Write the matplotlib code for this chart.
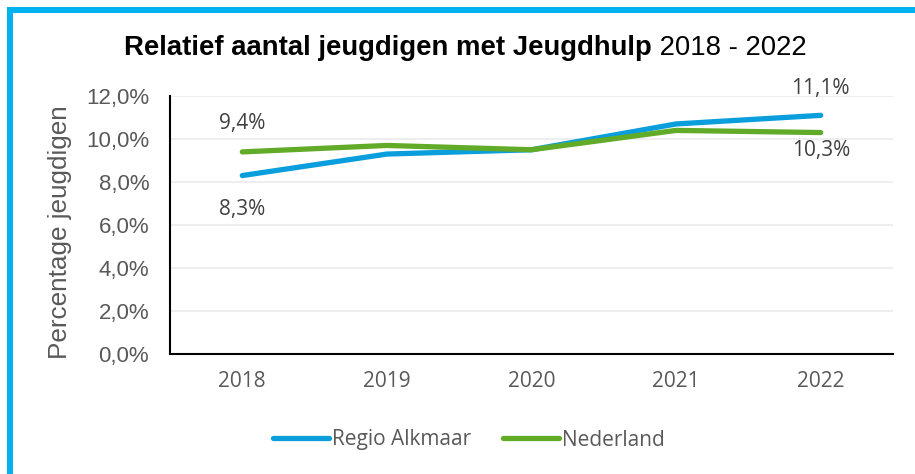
import matplotlib
matplotlib.use("Agg")
import matplotlib.pyplot as plt
from matplotlib.lines import Line2D
from matplotlib.patches import Rectangle

years = ["2018", "2019", "2020", "2021", "2022"]
regio_alkmaar = [8.3, 9.3, 9.5, 10.7, 11.1]
nederland = [9.4, 9.7, 9.5, 10.4, 10.3]
yticks = [0, 2, 4, 6, 8, 10, 12]

BLUE = "#0A9EDC"
GREEN = "#62AB28"
GRAY = "#595959"
DARK = "#404040"

W, H = 915, 474
fig = plt.figure(figsize=(W / 100, H / 100), dpi=100)
fig.patch.set_facecolor("white")

# frame (top and left blue bars)
fig.add_artist(Rectangle((7 / W, 0), 6 / W, 1 - 7 / H, transform=fig.transFigure,
                         color="#00B2F0", lw=0, zorder=0))
fig.add_artist(Rectangle((7 / W, 1 - 13 / H), 1 - 7 / W, 6 / H, transform=fig.transFigure,
                         color="#00B2F0", lw=0, zorder=0))

ax = fig.add_axes([170 / W, 1 - 354 / H, (893 - 170) / W, (354 - 96) / H])
x = list(range(len(years)))
ax.plot(x, regio_alkmaar, color=BLUE, lw=3.8, solid_capstyle="round", zorder=3)
ax.plot(x, nederland, color=GREEN, lw=3.8, solid_capstyle="round", zorder=3)

ax.set_xlim(-0.5, len(years) - 0.5)
ax.set_ylim(0, 12)
ax.set_yticks(yticks)
ax.set_yticklabels([f"{v:.1f}%".replace(".", ",") for v in yticks],
                   fontsize=16, color=GRAY, family="Liberation Sans")
ax.set_xticks(x)
ax.set_xticklabels(years, fontsize=15, color=GRAY, family="Open Sans")
ax.tick_params(axis="both", length=0)
ax.tick_params(axis="x", pad=12)
ax.tick_params(axis="y", pad=15)
ax.grid(axis="y", color="#EBEBEB", lw=1.2)
ax.set_axisbelow(True)
for s in ["top", "right"]:
    ax.spines[s].set_visible(False)
for s in ["left", "bottom"]:
    ax.spines[s].set_color("black")
    ax.spines[s].set_linewidth(1.5)

ax.set_ylabel("Percentage jeugdigen", fontsize=18.8, color=GRAY, family="Liberation Sans")
ax.yaxis.set_label_coords(-0.1356, 0.473)

def fmt(v):
    return f"{v:.1f}%".replace(".", ",")

lab_kw = dict(fontsize=15, color=DARK, family="Open Sans", ha="center", va="center")
ax.text(0, nederland[0] + 1.33, fmt(nederland[0]), **lab_kw)
ax.text(0, regio_alkmaar[0] - 1.6, fmt(regio_alkmaar[0]), **lab_kw)
ax.text(4, regio_alkmaar[4] + 1.26, fmt(regio_alkmaar[4]), **lab_kw)
ax.text(4, nederland[4] - 0.85, fmt(nederland[4]), **lab_kw)

# title
t1 = "Relatief aantal jeugdigen met Jeugdhulp"
t2 = " 2018 - 2022"
r = fig.canvas.get_renderer()
a = fig.text(0, 0, t1, fontsize=19.8, fontweight="bold", family="Liberation Sans")
b = fig.text(0, 0, t2, fontsize=19.8, family="Liberation Sans")
wa = a.get_window_extent(r).width
wb = b.get_window_extent(r).width
x0 = (465 - (wa + wb) / 2)
ya = 1 - 55 / H
a.set_position((x0 / W, ya))
b.set_position(((x0 + wa) / W, ya))

handles = [Line2D([], [], color=BLUE, lw=3.8, solid_capstyle="round"),
           Line2D([], [], color=GREEN, lw=3.8, solid_capstyle="round")]
fig.legend(handles, ["Regio Alkmaar", "Nederland"], loc="center",
           bbox_to_anchor=(469 / W, 1 - 440 / H), ncol=2, frameon=False,
           prop={"family": "Open Sans", "size": 15}, labelcolor=GRAY,
           handlelength=2.7, handletextpad=0.15, columnspacing=1.5)

fig.savefig("out.png", dpi=100, facecolor="white")
